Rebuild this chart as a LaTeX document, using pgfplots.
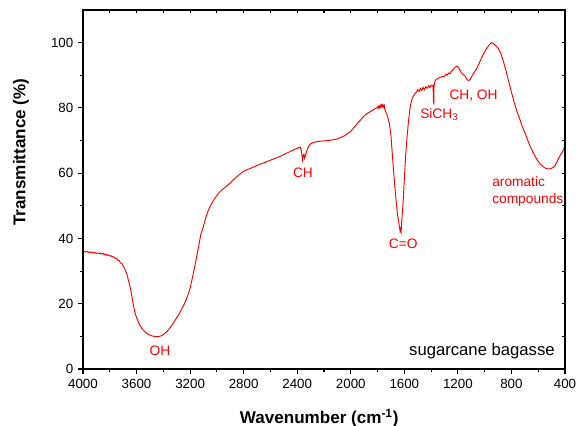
\documentclass[border=0pt]{standalone}
\usepackage{fontspec}
\setmainfont{Liberation Sans}
\usepackage{pgfplots}
\pgfplotsset{compat=1.18}
\definecolor{specred}{RGB}{255,0,0}
\begin{document}
\begin{tikzpicture}
\useasboundingbox (-62.25pt,-42pt) rectangle (370.5pt,276.75pt);
\begin{axis}[
  at={(0,0)}, anchor=south west,
  scale only axis, width=361.5pt, height=269.25pt,
  x dir=reverse, xmin=400, xmax=4000, ymin=0, ymax=110,
  xtick={400,800,...,4000}, minor x tick num=1,
  ytick={0,20,...,100}, minor y tick num=1,
  tick align=outside, tick pos=left,
  major tick length=3.75pt, minor tick length=2.25pt,
  axis line style={line width=0.9pt},
  every tick/.style={black, line width=0.8pt},
  /pgf/number format/assume math mode=true,
  /pgf/number format/set thousands separator={},
  tick label style={font=\fontsize{10}{12}\selectfont},
  xlabel={\textbf{Wavenumber (cm\textsuperscript{-1})}},
  ylabel={\textbf{Transmittance (\%)}},
  label style={font=\fontsize{12.8}{14}\selectfont},
  xlabel style={at={(axis description cs:0.49,0)}, anchor=center, yshift=-36.75pt},
  ylabel style={at={(axis description cs:0,0.604)}, anchor=center, yshift=46.5pt},
]
\addplot[specred, line width=0.7pt, no marks] table {
4000 30.5
3999 36.3
3990 36.0
3980 35.8
3970 36.1
3960 35.7
3950 35.9
3940 35.6
3930 35.8
3920 35.5
3910 35.7
3900 35.4
3890 35.6
3880 35.3
3870 35.5
3860 35.2
3850 35.4
3840 35.0
3830 35.2
3820 34.8
3810 35.0
3800 34.6
3790 34.7
3780 34.3
3770 34.4
3760 33.9
3750 33.9
3740 33.3
3730 33.2
3720 32.5
3710 32.3
3700 31.5
3690 31.0
3680 29.8
3670 28.8
3660 27.0
3650 25.5
3640 23.5
3630 21.0
3620 18.8
3610 17.0
3600 15.8
3580 13.8
3560 12.4
3540 11.5
3520 10.8
3500 10.4
3480 10.1
3460 9.9
3440 9.9
3420 10.1
3400 10.6
3380 11.2
3360 12.1
3340 13.2
3320 14.4
3300 15.7
3280 17.0
3260 18.6
3240 20.2
3220 22.2
3200 24.8
3180 28.5
3160 32.5
3140 36.8
3120 41.2
3100 43.8
3080 46.8
3060 49.0
3040 50.6
3020 52.0
3000 53.2
2980 54.2
2960 55.0
2940 55.6
2920 56.3
2900 57.0
2880 57.9
2860 58.6
2840 59.3
2800 60.6
2760 61.3
2720 62.0
2680 62.7
2640 63.3
2600 64.0
2560 64.6
2520 65.3
2480 66.1
2440 66.9
2400 67.6
2380 68.0
2370 67.2
2365 65.5
2360 64.0
2355 65.5
2350 65.8
2345 64.6
2340 65.2
2330 66.6
2320 67.8
2310 68.6
2300 69.0
2280 69.4
2250 69.7
2200 69.9
2150 70.1
2100 70.5
2050 71.4
2000 72.8
1980 73.8
1950 75.3
1920 76.6
1900 77.6
1870 78.5
1840 79.2
1820 79.7
1810 79.9
1800 80.3
1795 79.9
1790 80.6
1785 80.1
1780 80.8
1775 80.2
1770 80.9
1765 80.3
1760 81.0
1755 80.4
1750 80.8
1745 79.4
1730 78.0
1712 75.3
1700 71.5
1690 66.0
1680 60.5
1670 55.5
1660 51.0
1650 47.0
1640 44.5
1632 42.3
1628 43.0
1624 42.0
1618 46.0
1610 50.5
1600 58.0
1590 65.5
1580 71.0
1570 75.5
1560 79.2
1550 81.6
1540 83.0
1530 83.8
1520 84.5
1510 84.8
1500 85.6
1490 85.0
1480 86.0
1470 85.3
1460 86.3
1450 85.6
1440 86.5
1430 86.0
1420 86.8
1410 86.2
1400 87.0
1390 86.7
1385 86.9
1383 82.0
1380 81.5
1378 86.8
1370 88.3
1360 88.8
1340 89.2
1320 89.6
1300 89.7
1290 90.3
1280 90.0
1270 90.7
1260 90.4
1250 91.2
1240 91.5
1220 92.5
1210 92.8
1200 92.6
1190 92.0
1180 91.2
1170 90.5
1160 90.2
1150 90.0
1140 89.2
1130 88.6
1120 88.4
1110 88.6
1100 89.4
1080 90.8
1060 92.0
1040 93.8
1020 95.6
1000 97.2
980 98.6
960 99.6
950 100.0
940 99.8
920 99.2
900 98.3
880 96.8
860 94.2
840 91.3
820 88.0
800 84.8
780 81.8
760 79.0
740 76.8
720 74.4
700 72.4
680 70.3
660 68.2
640 66.5
620 64.9
600 63.6
580 62.6
560 61.9
540 61.4
520 61.3
500 61.5
480 62.0
460 63.4
440 65.2
420 66.5
410 67.2
405 68.0
402 70.5
400 60.5
};
\node[text=specred, font=\fontsize{10.3}{12}\selectfont] at (axis cs:3425,5.6) {OH};
\node[text=specred, font=\fontsize{10.3}{12}\selectfont] at (axis cs:2357,60.2) {CH};
\node[text=specred, font=\fontsize{10.3}{12}\selectfont] at (axis cs:1608,38.3) {C=O};
\node[text=specred, font=\fontsize{10.3}{12}\selectfont, anchor=base west, inner sep=0pt] at (axis cs:1483,76.7) {SiCH\textsubscript{3}};
\node[text=specred, font=\fontsize{10.3}{12}\selectfont] at (axis cs:1083,83.8) {CH, OH};
\node[text=specred, font=\fontsize{10.3}{12.5}\selectfont, anchor=north west, inner sep=0pt, align=left] at (axis cs:945,59) {aromatic\\compounds};
\node[text=black, font=\fontsize{12.5}{14}\selectfont, anchor=east, inner sep=0pt] at (axis cs:475,5.6) {sugarcane bagasse};
\end{axis}
\begin{axis}[
  at={(0,0)}, anchor=south west,
  scale only axis, width=361.5pt, height=269.25pt,
  x dir=reverse, xmin=400, xmax=4000, ymin=0, ymax=110,
  xtick={400,800,...,4000}, minor x tick num=1,
  ytick={0,20,...,100}, minor y tick num=1,
  tick align=inside, tick pos=right,
  major tick length=2.5pt, minor tick length=2.5pt,
  axis line style={line width=0.9pt},
  every tick/.style={black, line width=0.8pt},
  xticklabels={}, yticklabels={},
]
\end{axis}
\end{tikzpicture}
\end{document}
